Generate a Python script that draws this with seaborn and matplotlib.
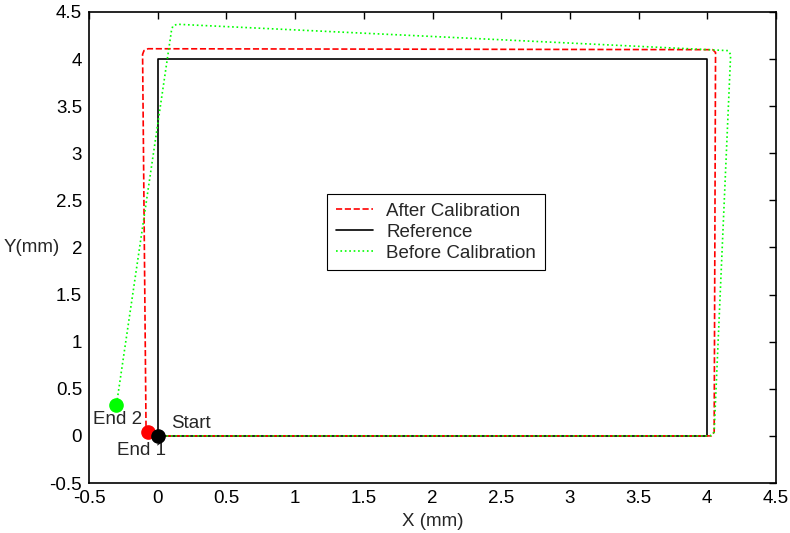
import numpy as np
import pandas as pd
import matplotlib
matplotlib.use("Agg")
import matplotlib.pyplot as plt
import seaborn as sns

# path data (mm)
ref_x = [0, 4, 4, 0, 0]
ref_y = [0, 0, 4, 4, 0]

after_x = [0, 4.03, 4.05, 4.06, 4.04, -0.07, -0.10, -0.11, -0.085, -0.07]
after_y = [0, 0.0, 0.04, 4.07, 4.10, 4.11, 4.09, 4.05, 0.10, 0.04]

before_x = [0, 4.02, 4.05, 4.17, 4.15, 0.14, 0.11, 0.10, -0.30]
before_y = [0, 0.0, 0.04, 4.05, 4.09, 4.37, 4.35, 4.30, 0.33]

end1 = (-0.07, 0.04)
end2 = (-0.30, 0.33)
start = (0.0, 0.0)

sns.set_style("white")
plt.rcParams['font.family'] = ['Liberation Sans', 'DejaVu Sans']
fs = 13.5

fig = plt.figure(figsize=(7.9, 5.33), dpi=100)
ax = fig.add_axes([89 / 790, 1 - 483 / 533, 687 / 790, 471 / 533])

sns.lineplot(x=ref_x, y=ref_y, sort=False, estimator=None, ax=ax,
             color='black', linewidth=1.2, label='Reference', zorder=2)
sns.lineplot(x=after_x, y=after_y, sort=False, estimator=None, ax=ax,
             color='red', linewidth=1.2, linestyle='--', dashes=(3.5, 2),
             label='After Calibration', zorder=3)
sns.lineplot(x=before_x, y=before_y, sort=False, estimator=None, ax=ax,
             color='#00ff00', linewidth=1.2, linestyle=':',
             label='Before Calibration', zorder=4)

ax.plot(*end2, 'o', color='#00ff00', markersize=9.5, zorder=5)
ax.plot(*end1, 'o', color='red', markersize=9.5, zorder=6)
ax.plot(*start, 'o', color='black', markersize=9.5, zorder=7)

ax.text(0.1, 0.13, 'Start', fontsize=fs, va='center', ha='left')
ax.text(-0.29, 0.17, 'End 2', fontsize=fs, va='center', ha='center')
ax.text(-0.12, -0.16, 'End 1', fontsize=fs, va='center', ha='center')

ax.set_xlim(-0.5, 4.5)
ax.set_ylim(-0.5, 4.5)
ax.set_xticks(np.arange(-0.5, 4.51, 0.5))
ax.set_yticks(np.arange(-0.5, 4.51, 0.5))
ax.set_xticklabels(['-0.5', '0', '0.5', '1', '1.5', '2', '2.5', '3', '3.5', '4', '4.5'])
ax.set_yticklabels(['-0.5', '0', '0.5', '1', '1.5', '2', '2.5', '3', '3.5', '4', '4.5'])
ax.tick_params(direction='in', length=5, width=1, top=True, right=True,
               labelsize=fs, colors='black', pad=5)
for s in ax.spines.values():
    s.set_visible(True)
    s.set_color('black')
    s.set_linewidth(1.2)

ax.set_xlabel('X (mm)', fontsize=fs, labelpad=4)
ax.set_ylabel('Y(mm)', fontsize=fs, rotation=0, va='center', ha='center')
ax.yaxis.set_label_coords(-0.083, 0.5)

h, l = ax.get_legend_handles_labels()
order = [l.index('After Calibration'), l.index('Reference'), l.index('Before Calibration')]
leg = ax.legend([h[i] for i in order], [l[i] for i in order],
                loc='lower left', bbox_to_anchor=(0.347, 0.452),
                fontsize=fs, frameon=True, fancybox=False, framealpha=1,
                edgecolor='black', handlelength=2.0, handletextpad=0.7,
                borderpad=0.45, labelspacing=0.2, borderaxespad=0)
leg.get_frame().set_linewidth(0.8)

fig.savefig('out.png', dpi=100)
